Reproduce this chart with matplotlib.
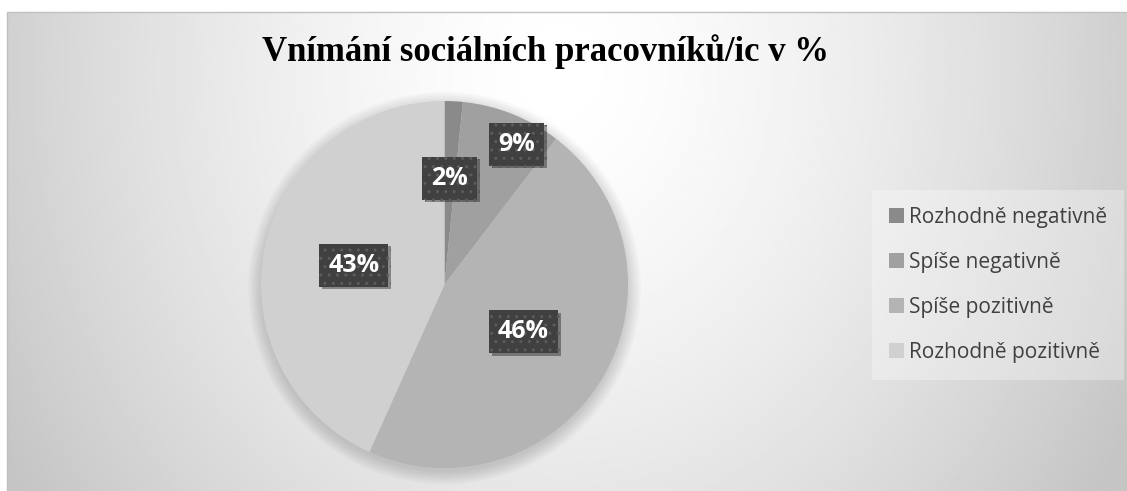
import numpy as np
import matplotlib.pyplot as plt
from matplotlib import patheffects as pe
from matplotlib.patches import Rectangle, Circle

categories = ['Rozhodně negativně', 'Spíše negativně', 'Spíše pozitivně', 'Rozhodně pozitivně']
shares = [1.6, 8.8, 46.3, 43.3]
colors = ['#8a8a8a', '#a0a0a0', '#b4b4b4', '#d0d0d0']
title = 'Vnímání sociálních pracovníků/ic v %'

# label placement (radius as fraction of pie radius, angular nudge in degrees)
label_dist = [0.58, 0.86, 0.50, 0.505]
label_turn = [0, -5.5, 0, 0]

W, H = 1127, 491
fig = plt.figure(figsize=(W / 100, H / 100), dpi=100)

# radial gradient background of the chart area
bg = fig.add_axes([7 / W, 0, 1 - 7 / W, 1 - 12 / H])
bg.set_axis_off()
gx = np.linspace(7, W, 500)
gy = np.linspace(12, H, 250)
X, Y = np.meshgrid(gx, gy)
r = np.clip(np.sqrt(((X - 560) / 650) ** 2 + ((Y - 70) / 760) ** 2), 0, 1)
shade = 1 - r ** 1.5 * 0.23
bg.imshow(shade, cmap='gray', vmin=0, vmax=1, extent=(7, W, H, 12), aspect='auto')
fig.add_artist(Rectangle((7 / W, -0.01), 1, 1 - 12 / H + 0.01, transform=fig.transFigure,
                         fill=False, ec='#c0c0c0', lw=1))

# pie
R, cx, cy, m = 183.5, 444.5, 284.5, 1.12
ax = fig.add_axes([(cx - R * m) / W, 1 - (cy + R * m) / H, 2 * R * m / W, 2 * R * m / H])
for k in range(8):
    ax.add_patch(Circle((0, -0.02), 1 + 0.01 * k, color='black', alpha=0.018, lw=0, zorder=0))
wedges, texts, autotexts = ax.pie(
    shares, colors=colors, startangle=90, counterclock=False,
    autopct=lambda p: f'{p:.0f}%',
    wedgeprops=dict(linewidth=0),
    textprops=dict(color='white', fontsize=18, fontweight='bold', family='Open Sans'))
ax.set_xlim(-m, m)
ax.set_ylim(-m, m)
ax.set_axis_off()

for w, t, d, s in zip(wedges, autotexts, label_dist, label_turn):
    ang = np.deg2rad((w.theta1 + w.theta2) / 2 + s)
    t.set_position((d * np.cos(ang), d * np.sin(ang)))
    t.set_ha('center')
    t.set_va('center')
    t.set_bbox(dict(boxstyle='square,pad=0.36', facecolor='#404040', edgecolor='#5c5c5c',
                    hatch='..', linewidth=0))
    t.get_bbox_patch().set_path_effects([
        pe.SimplePatchShadow(offset=(2, -2), shadow_rgbFace='black', alpha=0.35), pe.Normal()])

fig.text(545 / W, 1 - 52 / H, title, ha='center', va='center', fontsize=25,
         fontweight='bold', family='Liberation Serif', color='black')

leg = fig.legend(wedges, categories, loc='center left', bbox_to_anchor=(862 / W, 1 - 285 / H),
                 handlelength=0.7, handleheight=0.7, labelcolor='#404040',
                 handletextpad=0.25, labelspacing=1.15, borderpad=0.8, frameon=True,
                 fancybox=False, prop=dict(family='Open Sans', size=15))
leg.get_frame().set_facecolor('white')
leg.get_frame().set_alpha(0.3)
leg.get_frame().set_edgecolor('none')

fig.savefig('out.png', dpi=100)
